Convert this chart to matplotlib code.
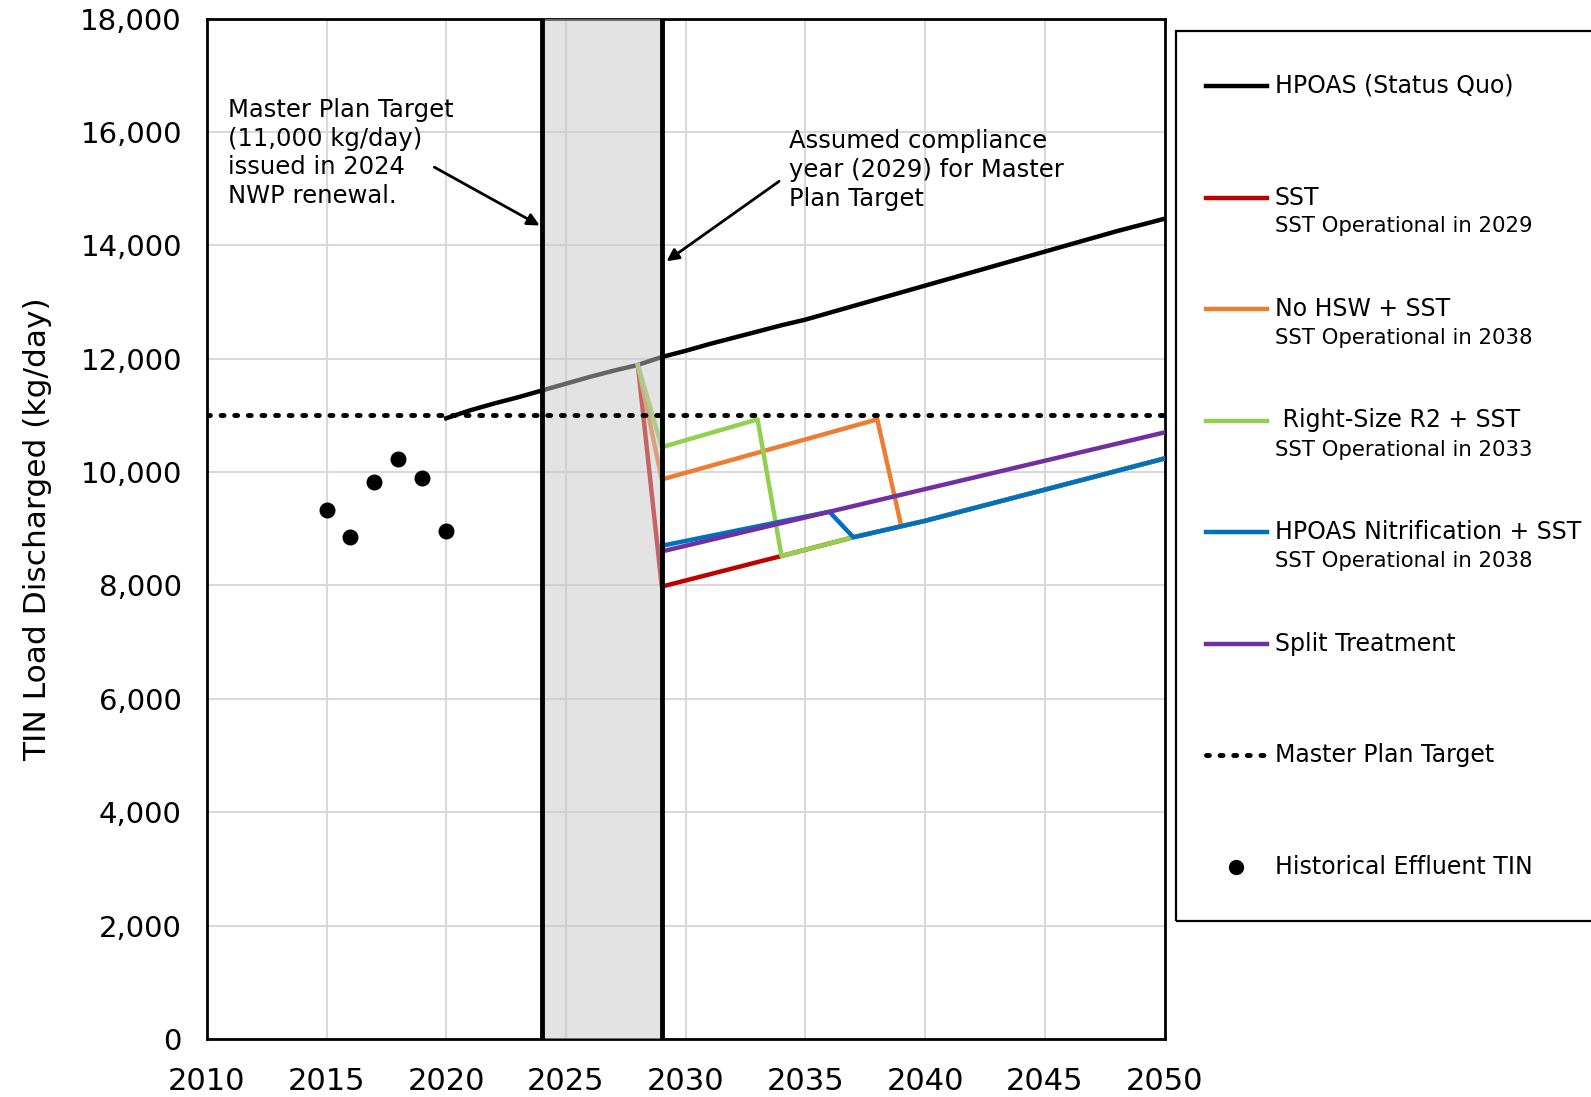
import matplotlib
matplotlib.use("Agg")
import matplotlib.pyplot as plt
from matplotlib.lines import Line2D
from matplotlib.patches import Rectangle

# historical effluent TIN
hist_years = [2015, 2016, 2017, 2018, 2019, 2020]
hist_tin = [9330, 8850, 9830, 10230, 9900, 8960]

# status quo
sq_years = list(range(2020, 2051))
sq_load = [10950, 11090, 11210, 11320, 11440, 11560, 11680, 11790, 11890, 12030,
           12140, 12260, 12370, 12480, 12590, 12690, 12810, 12930, 13050, 13170,
           13290, 13410, 13530, 13650, 13770, 13890, 14010, 14130, 14250, 14360,
           14470]

# scenarios
sst_years = [2028, 2029, 2034, 2037, 2040, 2045, 2050]
sst_load = [11890, 7980, 8520, 8850, 9140, 9690, 10240]

nohsw_years = [2028, 2029, 2038, 2039, 2040, 2045, 2050]
nohsw_load = [11890, 9870, 10930, 9050, 9140, 9690, 10240]

rs_years = [2028, 2029, 2033, 2034, 2037, 2040, 2045, 2050]
rs_load = [11890, 10440, 10930, 8520, 8850, 9140, 9690, 10240]

nit_years = [2029, 2036, 2037, 2040, 2045, 2050]
nit_load = [8700, 9300, 8850, 9140, 9690, 10240]

split_years = [2029, 2050]
split_load = [8600, 10700]

target = 11000
target_years = [2010, 2050]

fig = plt.figure(figsize=(15.91, 10.97), dpi=100)
ax = fig.add_axes([0.130, 0.053, 0.602, 0.930])

c_red = "#c00000"
c_orange = "#ed7d31"
c_green = "#92d050"
c_blue = "#0070c0"
c_purple = "#7030a0"
dots = (0, (0.6, 2.2))

ax.plot(target_years, [target, target], color="black", lw=3.5,
        linestyle=dots, dash_capstyle="round", zorder=12)
ax.plot(sq_years, sq_load, color="black", lw=3.2, zorder=3)
ax.plot(sst_years, sst_load, color=c_red, lw=3.2, zorder=4)
ax.plot(nohsw_years, nohsw_load, color=c_orange, lw=3.2, zorder=5)
ax.plot(rs_years, rs_load, color=c_green, lw=3.2, zorder=6)
ax.plot(nit_years, nit_load, color=c_blue, lw=3.2, zorder=7)
ax.plot(split_years, split_load, color=c_purple, lw=3.2, zorder=8)
ax.scatter(hist_years, hist_tin, s=110, color="black", zorder=9)

ax.axvspan(2024, 2029, color="#c8c8c8", alpha=0.5, lw=0, zorder=10)
ax.axvline(2024, color="black", lw=3.5, zorder=11)
ax.axvline(2029, color="black", lw=3.5, zorder=11)

ax.set_xlim(2010, 2050)
ax.set_ylim(0, 18000)
ax.set_xticks(range(2010, 2051, 5))
ax.set_yticks(range(0, 18001, 2000))
ax.set_yticklabels([f"{v:,}" for v in range(0, 18001, 2000)], fontsize=21)
ax.set_xticklabels([str(v) for v in range(2010, 2051, 5)], fontsize=22)
ax.tick_params(axis="y", length=0, pad=18)
ax.tick_params(axis="x", length=0, pad=20)
ax.grid(True, color="#d9d9d9", lw=1.5, zorder=0)
ax.set_axisbelow(True)
for s in ax.spines.values():
    s.set_linewidth(2)
ax.set_ylabel("TIN Load Discharged (kg/day)", fontsize=22.5, labelpad=20)

ax.text(2010.9, 16600, "Master Plan Target\n(11,000 kg/day)\nissued in 2024\nNWP renewal.",
        fontsize=17.5, va="top", ha="left", linespacing=1.25, zorder=12)
ax.annotate("", xy=(2023.9, 14350), xytext=(2019.5, 15380), zorder=12,
            arrowprops=dict(arrowstyle="-|>", color="black", lw=2,
                            shrinkA=0, shrinkB=0, mutation_scale=18))
ax.text(2034.3, 16050, "Assumed compliance\nyear (2029) for Master\nPlan Target",
        fontsize=17.5, va="top", ha="left", linespacing=1.25, zorder=12)
ax.annotate("", xy=(2029.2, 13720), xytext=(2033.9, 15130), zorder=12,
            arrowprops=dict(arrowstyle="-|>", color="black", lw=2,
                            shrinkA=0, shrinkB=0, mutation_scale=18))

# legend box drawn in figure coordinates
fig.patches.append(Rectangle((0.739, 0.160), 0.30, 0.812, transform=fig.transFigure,
                             fill=False, edgecolor="black", lw=1.6))
entries = [
    ("HPOAS (Status Quo)", None, dict(color="black")),
    ("SST", "SST Operational in 2029", dict(color=c_red)),
    ("No HSW + SST", "SST Operational in 2038", dict(color=c_orange)),
    (" Right-Size R2 + SST", "SST Operational in 2033", dict(color=c_green)),
    ("HPOAS Nitrification + SST", "SST Operational in 2038", dict(color=c_blue)),
    ("Split Treatment", None, dict(color=c_purple)),
    ("Master Plan Target", None, dict(color="black", linestyle=dots,
                                      dash_capstyle="round", lw=3.5)),
    ("Historical Effluent TIN", None, None),
]
y0 = 1 - 86 / 1097
dy = 111.5 / 1097
x_h0, x_h1, x_t = 1206 / 1591, 1267 / 1591, 1275 / 1591
for i, (lab, sub, style) in enumerate(entries):
    y = y0 - i * dy
    if style is None:
        fig.add_artist(Line2D([1236 / 1591], [y], marker="o", color="black",
                              markersize=10, linestyle="none"))
    else:
        kw = dict(lw=3.2)
        kw.update(style)
        fig.add_artist(Line2D([x_h0, x_h1], [y, y], **kw))
    fig.text(x_t, y, lab, fontsize=17, va="center", ha="left")
    if sub:
        fig.text(x_t, y - 29 / 1097, sub, fontsize=15.3, va="center", ha="left")

fig.savefig("out.png", dpi=100)
